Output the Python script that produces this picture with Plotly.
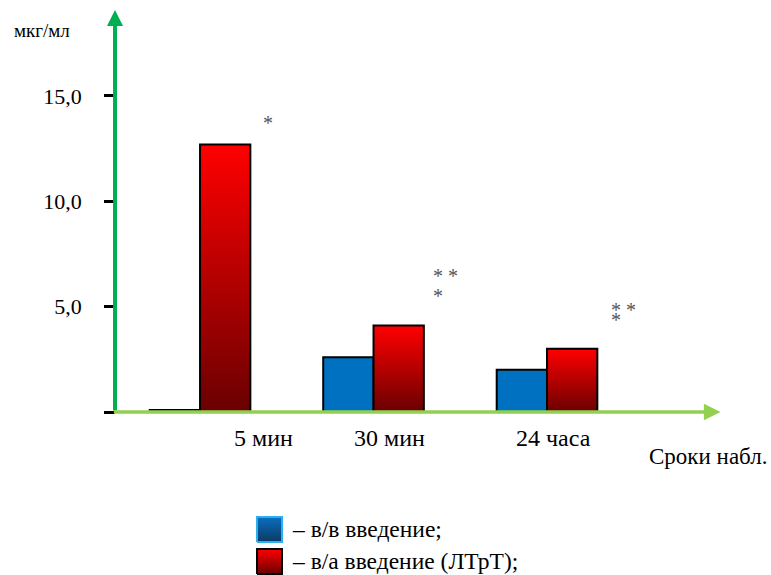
import plotly.graph_objects as go

# ---- data ----
categories = ["5 мин", "30 мин", "24 часа"]
iv_values = [0.1, 2.6, 2.0]        # в/в введение
ia_values = [12.7, 4.1, 3.0]       # в/а введение (ЛТрТ)
y_tickvals = [0, 5, 10, 15]
y_ticktext = ["", "5,0", "10,0", "15,0"]
series_names = ["– в/в введение;", "– в/а введение (ЛТрТ);"]
y_unit = "мкг/мл"
x_title = "Сроки набл."

FONT = "Liberation Serif, Times New Roman, serif"
W, H = 771, 575
XR = [-1.153, 3.291]
YR = [-7.736, 19.554]
X_AX = -0.49          # where the vertical axis sits (data units)
BW = 0.29             # bar width

def px_frac(v, r):
    return (v - r[0]) / (r[1] - r[0])

fig = go.Figure()

# blue bars (flat)
fig.add_trace(go.Bar(
    x=list(range(len(categories))), y=iv_values, offset=-BW, width=BW,
    marker=dict(color="#0070C0", line=dict(color="black", width=2)),
    showlegend=False, hoverinfo="skip"))

# red bars with vertical gradient
for i, v in enumerate(ia_values):
    xs = [i, i + BW, i + BW, i, i]
    ys = [0, 0, v, v, 0]
    fig.add_trace(go.Scatter(
        x=xs, y=ys, mode="lines", fill="toself",
        fillgradient=dict(type="vertical",
                          colorscale=[[0, "#6a0000"], [1, "#ff0000"]]),
        line=dict(color="black", width=2),
        showlegend=False, hoverinfo="skip"))

# legend swatches on an overlay paper-like axis pair
sw = [
    dict(y0=1 - 542 / H, y1=1 - 517 / H, cs=[[0, "#0b3a64"], [1, "#0a6fc0"]], lc="#2ab0f0"),
    dict(y0=1 - 574 / H, y1=1 - 549 / H, cs=[[0, "#6a0000"], [1, "#ff0000"]], lc="black"),
]
x0s, x1s = 257 / W, 282 / W
for s in sw:
    fig.add_trace(go.Scatter(
        x=[x0s, x1s, x1s, x0s, x0s], y=[s["y0"], s["y0"], s["y1"], s["y1"], s["y0"]],
        xaxis="x2", yaxis="y2", mode="lines", fill="toself",
        fillgradient=dict(type="vertical", colorscale=s["cs"]),
        line=dict(color=s["lc"], width=2),
        showlegend=False, hoverinfo="skip"))

annotations = []
# axis arrows
annotations.append(dict(x=X_AX, y=19.08, ax=X_AX, ay=0, xref="x", yref="y",
                        axref="x", ayref="y", text="", showarrow=True,
                        arrowhead=2, arrowsize=0.8, arrowwidth=4, arrowcolor="#00B050"))
annotations.append(dict(x=3.0, y=0, ax=X_AX - 0.015, ay=0, xref="x", yref="y",
                        axref="x", ayref="y", text="", showarrow=True,
                        arrowhead=2, arrowsize=0.95, arrowwidth=3.5, arrowcolor="#92D050"))

# category labels
label_offsets = [0.363, 0.092, 0.037]
for i, c in enumerate(categories):
    annotations.append(dict(x=i + label_offsets[i], y=-1.25, xref="x", yref="y",
                            text=c, showarrow=False, xanchor="center", yanchor="middle",
                            font=dict(family=FONT, size=24, color="black")))

# significance asterisks
stars = [(0.39, 13.72, "*"), (1.415, 6.45, "* *"), (1.369, 5.51, "*"),
         (2.438, 4.84, "* *"), (2.398, 4.37, "*")]
for x, y, t in stars:
    annotations.append(dict(x=x, y=y, xref="x", yref="y", text=t, showarrow=False,
                            font=dict(family=FONT, size=20, color="#555555")))

annotations.append(dict(x=12 / W, y=1 - 30 / H, xref="paper", yref="paper", text=y_unit,
                        showarrow=False, xanchor="left", yanchor="middle",
                        font=dict(family=FONT, size=19, color="black")))
annotations.append(dict(x=769 / W, y=1 - 456 / H, xref="paper", yref="paper", text=x_title,
                        showarrow=False, xanchor="right", yanchor="middle",
                        font=dict(family=FONT, size=23, color="black")))
for name, yc in zip(series_names, [529, 561]):
    annotations.append(dict(x=290 / W, y=1 - yc / H, xref="paper", yref="paper", text=name,
                            showarrow=False, xanchor="left", yanchor="middle",
                            font=dict(family=FONT, size=23.5, color="black")))

fig.update_layout(
    width=W, height=H, margin=dict(l=0, r=0, t=0, b=0),
    paper_bgcolor="white", plot_bgcolor="white",
    barmode="overlay", showlegend=False,
    xaxis=dict(range=XR, visible=False, fixedrange=True),
    yaxis=dict(range=YR, anchor="free", position=px_frac(X_AX, XR),
               tickvals=y_tickvals, ticktext=y_ticktext, ticks="outside",
               ticklen=11, tickwidth=3, tickcolor="black", showline=False,
               showgrid=False, zeroline=False, ticklabelstandoff=18,
               tickfont=dict(family=FONT, size=22, color="black"), fixedrange=True),
    xaxis2=dict(range=[0, 1], overlaying="x", visible=False, fixedrange=True),
    yaxis2=dict(range=[0, 1], overlaying="y", visible=False, fixedrange=True),
    annotations=annotations,
)

fig.write_html("out.html", config={"displayModeBar": False},
               post_script="document.body.style.margin='0';document.body.style.padding='0';")
